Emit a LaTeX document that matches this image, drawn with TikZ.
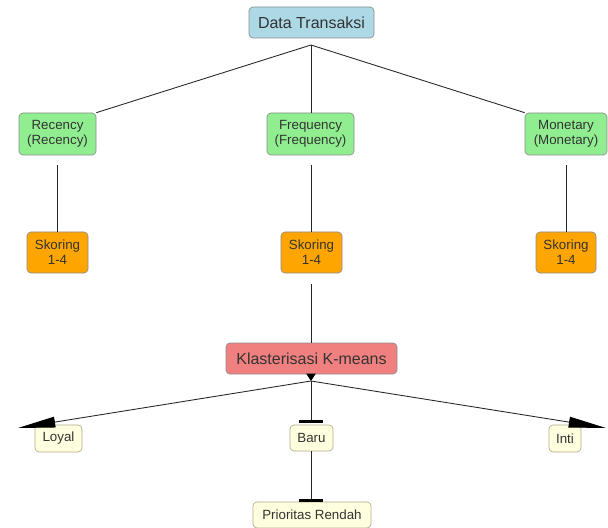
\documentclass[tikz,border=0pt]{standalone}
\usepackage{fontspec}
\setmainfont{Liberation Sans}
\usetikzlibrary{arrows.meta}
\definecolor{cBlue}{HTML}{ADD8E6}
\definecolor{cGreen}{HTML}{90EE90}
\definecolor{cOrange}{HTML}{FFA500}
\definecolor{cRed}{HTML}{F08080}
\definecolor{cYellow}{HTML}{FFFFE0}
\begin{document}
\begin{tikzpicture}[x=0.75pt,y=-0.75pt,
  box/.style={rectangle, rounded corners=3pt, draw=black!45, line width=0.5pt, text=black!80,
    align=center, inner sep=0pt, font=\fontsize{10}{11.5}\selectfont},
  leaf/.style={box, fill=cYellow, draw=black!30!cYellow!80!brown},
  conn/.style={draw=black!85, line width=0.65pt},
  bigtip/.style={conn, -{Triangle[length=28pt,width=8pt,color=black]}},
  bartip/.style={conn, -{Bar[width=18pt,line width=2pt,color=black]}}]
\useasboundingbox (0,0) rectangle (608,528);
% nodes
\node[box, fill=cBlue, minimum width=93.75pt, minimum height=23.25pt, font=\fontsize{12}{14}\selectfont] (dt) at (311.5,22.5) {Data Transaksi};
\node[box, fill=cGreen, minimum width=57.75pt, minimum height=31.5pt] (rec) at (57.5,134) {Recency\\(Recency)};
\node[box, fill=cGreen, minimum width=65.25pt, minimum height=31.5pt] (freq) at (310.5,134) {Frequency\\(Frequency)};
\node[box, fill=cGreen, minimum width=61.5pt, minimum height=31.5pt] (mon) at (566,134) {Monetary\\(Monetary)};
\node[box, fill=cOrange, minimum width=45.75pt, minimum height=30.75pt] (sk1) at (57.5,252.5) {Skoring\\1-4};
\node[box, fill=cOrange, minimum width=45.75pt, minimum height=30.75pt] (sk2) at (311.5,252.5) {Skoring\\1-4};
\node[box, fill=cOrange, minimum width=45pt, minimum height=30.75pt] (sk3) at (566,252.5) {Skoring\\1-4};
\node[box, fill=cRed, minimum width=128.25pt, minimum height=23.25pt, font=\fontsize{12}{14}\selectfont] (kl) at (311.5,358.5) {Klasterisasi K-means};
\node[leaf, minimum width=35.25pt, minimum height=20.25pt] (loyal) at (58.5,438.5) {Loyal};
\node[leaf, minimum width=32.25pt, minimum height=19.5pt] (baru) at (311.5,438) {Baru};
\node[leaf, minimum width=24pt, minimum height=20.25pt] (inti) at (565,438.5) {Inti};
\node[leaf, minimum width=88.5pt, minimum height=19.5pt] (prio) at (312,515) {Prioritas Rendah};
% coordinates
\coordinate (dtb) at (311,45);
\coordinate (j) at (311,381);
\coordinate (lt) at (18,428);
\coordinate (rt) at (606,428);
% connectors
\draw[conn] (dtb) -- (rec.north east);
\draw[conn] (dtb) -- (freq.north -| dtb);
\draw[conn] (dtb) -- (mon.north west);
\draw[conn, shorten <=7.5pt] (rec) -- (sk1);
\draw[conn, shorten <=7.5pt] (freq.south -| dtb) -- (sk2.north -| dtb);
\draw[conn, shorten <=7.5pt] (mon) -- (sk3);
\draw[conn, shorten <=8pt] (sk2.south -| dtb) -- (kl.north -| dtb);
\draw[conn, -{Triangle[length=5.5pt,width=7pt,color=black]}] (kl.south -| dtb) -- (j);
\draw[bigtip] (j) -- (lt);
\draw[bigtip] (j) -- (rt);
\draw[bartip, shorten >=1.5pt] (j) -- (baru.north -| dtb);
\draw[bartip] (baru.south -| dtb) -- (prio.north -| dtb);
\end{tikzpicture}
\end{document}
